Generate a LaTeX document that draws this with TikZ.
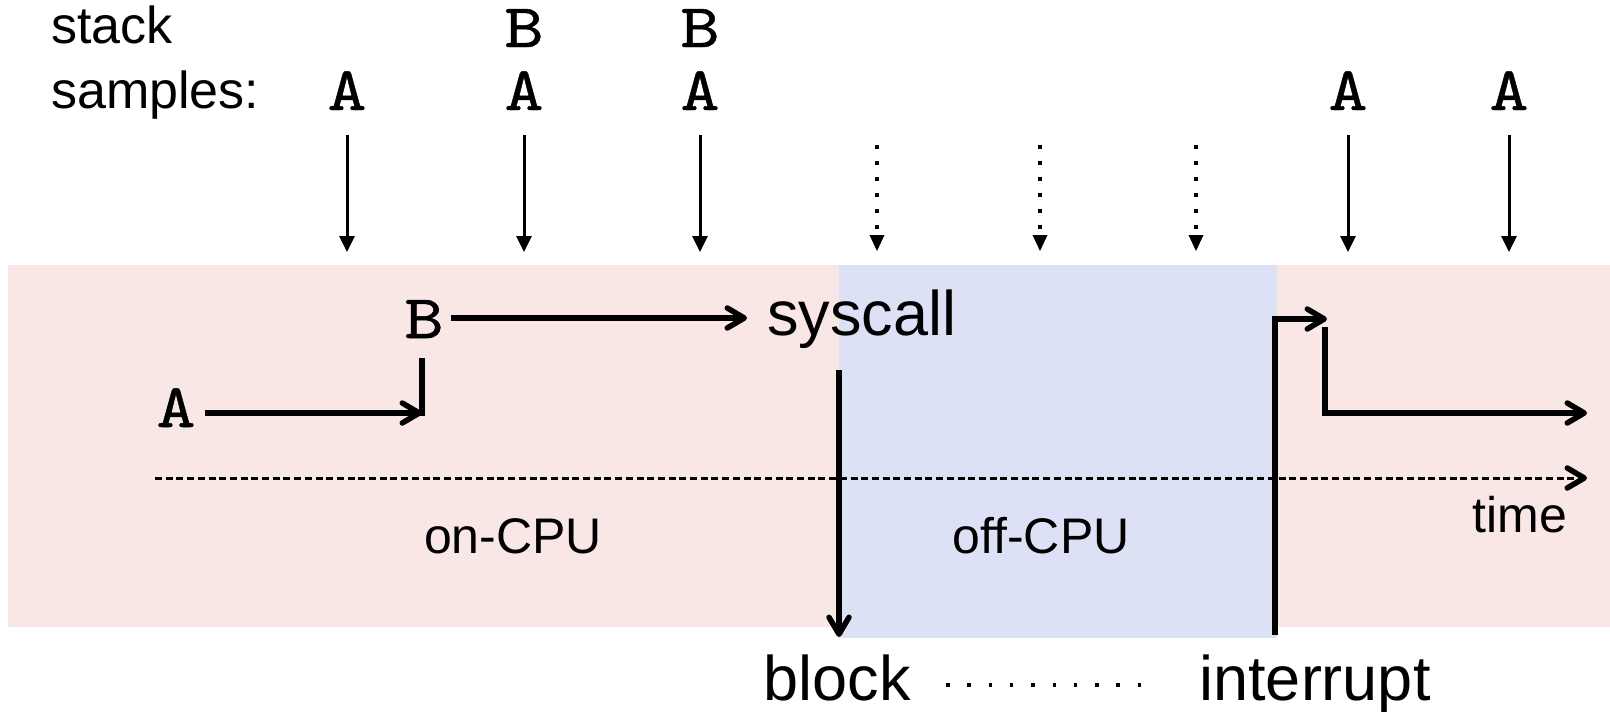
\documentclass[tikz,border=0pt]{standalone}
\usepackage{fontspec}
\setmainfont{Liberation Sans}
\newfontfamily\cour[FakeStretch=1.2,FakeBold=0.8]{lmmono10-regular.otf}
\usetikzlibrary{arrows.meta}
\definecolor{oncpu}{RGB}{249,231,229}
\definecolor{offcpu}{RGB}{221,225,245}
\begin{document}
\begin{tikzpicture}[x=1pt,y=-1pt,
  txt/.style={inner sep=0pt, anchor=base, font=\fontsize{50}{50}\selectfont},
  lefttxt/.style={inner sep=0pt, anchor=base west, font=\fontsize{52}{52}\selectfont},
  bigtxt/.style={inner sep=0pt, anchor=base, font=\fontsize{63}{63}\selectfont},
  fn/.style={inner sep=0pt, anchor=base, font=\cour\fontsize{62}{62}\selectfont},
  sample/.style={line width=3pt, -{Triangle[length=16pt,width=15pt]}},
  ghost/.style={line width=4pt, dash pattern=on 4pt off 12pt, -{Triangle[length=16pt,width=15pt,line width=0pt]}},
  barb/.style={-{Straight Barb[length=17pt,width=20pt,round,line width=5.5pt]}},
  flow/.style={line width=5.5pt, barb},
  flowline/.style={line width=5.5pt},
  timeline/.style={line width=3pt, dash pattern=on 7pt off 3.7pt, barb},
  waitdots/.style={line width=3.5pt, dash pattern=on 3.5pt off 17.8pt}
]
\useasboundingbox (0,0) rectangle (1610,712);
% background bands
\fill[oncpu] (8,265) rectangle (1610,627);
\fill[offcpu] (839,265) rectangle (1277,638);

% header
\node[lefttxt] (stack) at (51,43) {stack};
\node[lefttxt] (samples) at (51,108) {samples:};

% sample labels
\node[fn] (s1a) at (347,110) {A};
\node[fn] (s2b) at (524,47) {B};
\node[fn] (s2a) at (524,110) {A};
\node[fn] (s3b) at (700,47) {B};
\node[fn] (s3a) at (700,110) {A};
\node[fn] (s7a) at (1348,110) {A};
\node[fn] (s8a) at (1509,110) {A};

% sample arrows
\foreach \n/\x in {1/347,2/524,3/700,7/1348,8/1509}{
  \coordinate (t\n) at (\x,135);
  \coordinate (b\n) at (\x,252);
  \draw[sample] (t\n) -- (b\n);
}
\foreach \n/\x in {4/877,5/1040,6/1196}{
  \coordinate (t\n) at (\x,145);
  \coordinate (b\n) at (\x,251);
  \draw[ghost] (t\n) -- (b\n);
}

% flow
\node[fn] (A) at (176,427) {A};
\node[fn] (B) at (424,338) {B};
\node[bigtxt] (syscall) at (862,335) {syscall};
\coordinate (a0) at (205,413);
\coordinate (a1) at (422,413);
\coordinate (a1top) at (422,358);
\draw[flow] (a0) -- (a1);
\draw[flowline] (a1top) -- ([yshift=-2.75pt]a1);
\coordinate (b0) at (451,318);
\coordinate (b1) at (747,318);
\draw[flow] (b0) -- (b1);

\coordinate (blk0) at (839,370);
\coordinate (blk1) at (839,637);
\draw[flow] (blk0) -- (blk1);

\coordinate (int0) at (1275,635);
\coordinate (int1) at (1275,319);
\coordinate (int2) at (1327,319);
\draw[flow] (int0) -- (int1) -- (int2);

\coordinate (res0) at (1325,327);
\coordinate (res1) at (1325,413);
\coordinate (res2) at (1587,413);
\draw[flow] (res0) -- (res1) -- (res2);

% time axis
\coordinate (t0) at (155,478);
\coordinate (tend) at (1587,478);
\draw[timeline] (t0) -- (tend);
\node[txt] (time) at (1520,532) {time};
\node[txt] (on) at (513,553) {on-CPU};
\node[txt] (off) at (1041,553) {off-CPU};

% bottom labels
\node[bigtxt] (block) at (837,700) {block};
\node[bigtxt] (interrupt) at (1315,700) {interrupt};
\coordinate (d0) at (946,685);
\coordinate (d1) at (1143,685);
\draw[waitdots] (d0) -- (d1);
\end{tikzpicture}
\end{document}
